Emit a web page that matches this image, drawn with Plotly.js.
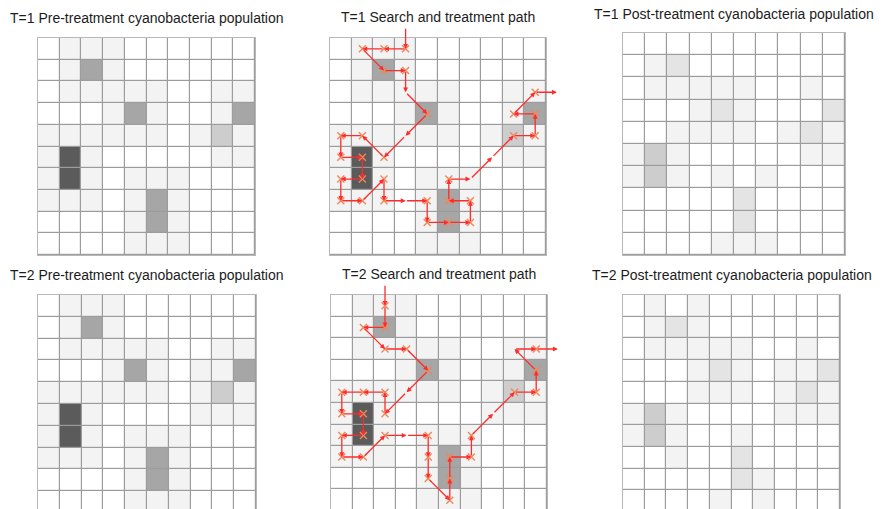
<!DOCTYPE html>
<html>
<head>
<meta charset="utf-8">
<script src="https://cdn.plot.ly/plotly-3.0.1.min.js"></script>
<style>html,body{margin:0;padding:0;background:#fff;}#chart{width:884px;height:509px;}</style>
</head>
<body>
<div id="chart"></div>
<script>
// ---- DATA ----
// cell levels: 0 none, 1 trace, 2 low, 3 moderate, 4 high, 5 very high
const titles = [
  "T=1 Pre-treatment cyanobacteria population",
  "T=1 Search and treatment path",
  "T=1 Post-treatment cyanobacteria population",
  "T=2 Pre-treatment cyanobacteria population",
  "T=2 Search and treatment path",
  "T=2 Post-treatment cyanobacteria population"
];
const pre1 = [
  [0,1,1,1,0,0,0,0,0,0],
  [0,1,4,1,0,0,0,0,0,0],
  [0,1,1,1,1,1,0,0,1,1],
  [0,0,0,1,4,1,0,0,1,4],
  [1,1,1,1,1,1,0,1,3,1],
  [1,5,1,0,0,0,0,0,1,1],
  [1,5,1,0,1,1,1,0,0,0],
  [1,1,1,0,1,4,1,0,0,0],
  [0,0,0,0,1,4,1,0,0,0],
  [0,0,0,0,1,1,1,0,0,0]
];
const post1 = [
  [0,0,0,0,0,0,0,0,0,0],
  [0,1,2,0,0,0,0,0,0,0],
  [0,1,1,1,1,1,0,0,1,0],
  [0,0,0,1,2,1,0,0,0,2],
  [0,0,1,1,1,1,0,1,2,1],
  [1,3,1,0,0,0,0,0,1,1],
  [1,3,1,0,1,0,1,0,0,0],
  [0,0,0,0,0,2,0,0,0,0],
  [0,0,0,0,0,2,0,0,0,0],
  [0,0,0,0,1,1,1,0,0,0]
];
const pre2 = [
  [0,1,1,1,0,0,0,0,0,0],
  [0,1,4,1,0,0,0,0,0,0],
  [0,1,1,1,1,1,0,0,1,1],
  [0,0,0,1,4,1,0,1,1,4],
  [1,1,1,1,1,1,0,1,3,1],
  [1,5,1,0,0,0,0,1,1,1],
  [1,5,1,0,1,1,1,0,0,0],
  [1,1,1,0,1,4,1,0,0,0],
  [0,0,0,0,1,4,1,0,0,0],
  [0,0,0,0,1,1,1,0,0,0]
];
const post2 = [
  [0,1,0,1,0,0,0,0,0,0],
  [0,1,2,1,0,0,0,0,0,0],
  [0,1,1,1,1,1,0,0,1,0],
  [0,0,0,1,2,1,0,1,1,2],
  [0,0,0,1,1,1,0,1,2,1],
  [1,3,1,0,0,0,0,1,1,1],
  [1,3,1,0,0,1,0,0,0,0],
  [0,0,1,0,0,2,0,0,0,0],
  [0,0,0,0,0,2,1,0,0,0],
  [0,0,0,0,1,0,1,0,0,0]
];
// search path waypoints (column, row) and whether treatment happened there
const path1Col   = [3,3,2,1,2,3,3,4,3,2,1,0,0,1,1,0,0,1,2,2,3,4,4,5,6,6,5,5,6,7,8,9,9,8,9,10];
const path1Row   = [-1,0,0,0,1,1,2,3,4,5,4,4,5,5,6,6,7,7,6,7,7,7,8,8,8,7,7,6,6,5,4,4,3,3,2,2];
const path1Treat = [0,1,1,1,1,1,0,1,0,1,1,1,1,1,1,1,1,1,1,1,0,1,1,1,1,1,1,1,0,0,1,1,1,1,1,0];
const path2Col   = [2,2,2,1,2,3,4,3,2,2,1,0,0,1,1,0,0,1,2,3,4,4,4,5,5,5,6,6,7,8,9,9,8,9,10];
const path2Row   = [-1,0,1,1,2,2,3,4,5,4,4,4,5,5,6,6,7,7,6,6,6,7,8,9,8,7,7,6,5,4,4,3,2,2,2];
const path2Treat = [0,1,1,1,1,1,1,0,1,1,1,1,1,1,1,1,1,1,1,0,1,1,1,1,1,1,1,1,0,1,1,1,0,1,0];

// ---- LAYOUT ----
const W = 884, H = 509;
// panel boxes in px: [left, top, right, bottom]
const boxes = [
  [38, 38, 255, 255],
  [330, 38, 546, 255],
  [623, 33, 845, 255],
  [38, 295, 256, 509],
  [331, 295, 547, 509],
  [623, 295, 840, 509]
];
const titleY = [18, 17, 14, 274.5, 274, 275];
const grids = [pre1, pre1, post1, pre2, pre2, post2];

const levelScale = [
  [0, '#ffffff'], [0.1, '#ffffff'],
  [0.1, '#f3f3f3'], [0.3, '#f3f3f3'],
  [0.3, '#e4e4e4'], [0.5, '#e4e4e4'],
  [0.5, '#cdcdcd'], [0.7, '#cdcdcd'],
  [0.7, '#a6a6a6'], [0.9, '#a6a6a6'],
  [0.9, '#5b5b5b'], [1, '#5b5b5b']
];

const layout = {
  width: W, height: H,
  margin: {l: 0, r: 0, t: 0, b: 0},
  paper_bgcolor: '#ffffff',
  plot_bgcolor: '#9c9c9c',
  showlegend: false,
  annotations: [],
  font: {family: 'Liberation Sans, Arial, sans-serif'}
};
const data = [];
boxes.forEach((b, i) => {
  const n = i + 1;
  const xa = 'xaxis' + (n === 1 ? '' : n);
  const ya = 'yaxis' + (n === 1 ? '' : n);
  const cell = (b[2] - b[0]) / 10;
  const bottomRange = i < 3 ? 9.5 : -0.5 + (b[3] - b[1]) / cell;
  const axBase = {showgrid: false, zeroline: false, showticklabels: false, ticks: '',
    showline: true, mirror: true, linecolor: '#b8b8b8', linewidth: 1.2, fixedrange: true};
  layout[xa] = Object.assign({}, axBase, {domain: [b[0] / W, b[2] / W], range: [-0.5, 9.5],
    anchor: 'y' + (n === 1 ? '' : n)});
  layout[ya] = Object.assign({}, axBase, {domain: [1 - b[3] / H, 1 - b[1] / H], range: [bottomRange, -0.5],
    anchor: 'x' + (n === 1 ? '' : n)});
  if (i >= 3) { layout[xa].mirror = false; layout[xa].side = 'top'; }
  data.push({
    type: 'heatmap', z: grids[i], zmin: 0, zmax: 5, colorscale: levelScale, showscale: false,
    xgap: 1.2, ygap: 1.2, hoverinfo: 'skip',
    xaxis: 'x' + (n === 1 ? '' : n), yaxis: 'y' + (n === 1 ? '' : n)
  });
  layout.annotations.push({
    text: titles[i], xref: 'paper', yref: 'paper', x: (b[0] + b[2]) / 2 / W, y: 1 - titleY[i] / H,
    xanchor: 'center', yanchor: 'middle', showarrow: false,
    font: {family: 'Liberation Sans, Arial, sans-serif', size: 14, color: '#1c1c1c'}
  });
});

function addPath(cols, rows, treat, n) {
  const xr = 'x' + n, yr = 'y' + n;
  for (let k = 1; k < cols.length; k++) {
    layout.annotations.push({
      x: cols[k], y: rows[k], ax: cols[k - 1], ay: rows[k - 1],
      xref: xr, yref: yr, axref: xr, ayref: yr,
      text: '', showarrow: true, arrowhead: 2, arrowsize: 0.75, arrowwidth: 1.3,
      arrowcolor: '#ff2b2b', standoff: 0, startstandoff: 0
    });
  }
  data.push({
    type: 'scatter', mode: 'markers',
    x: cols.filter((c, k) => treat[k]), y: rows.filter((r, k) => treat[k]),
    marker: {symbol: 'x-thin', size: 7, line: {width: 1.4, color: '#f0875a'}, color: '#f0875a'},
    hoverinfo: 'skip', xaxis: xr, yaxis: yr
  });
}
addPath(path1Col, path1Row, path1Treat, 2);
addPath(path2Col, path2Row, path2Treat, 5);

Plotly.newPlot('chart', data, layout, {staticPlot: true, displayModeBar: false});
</script>
</body>
</html>
